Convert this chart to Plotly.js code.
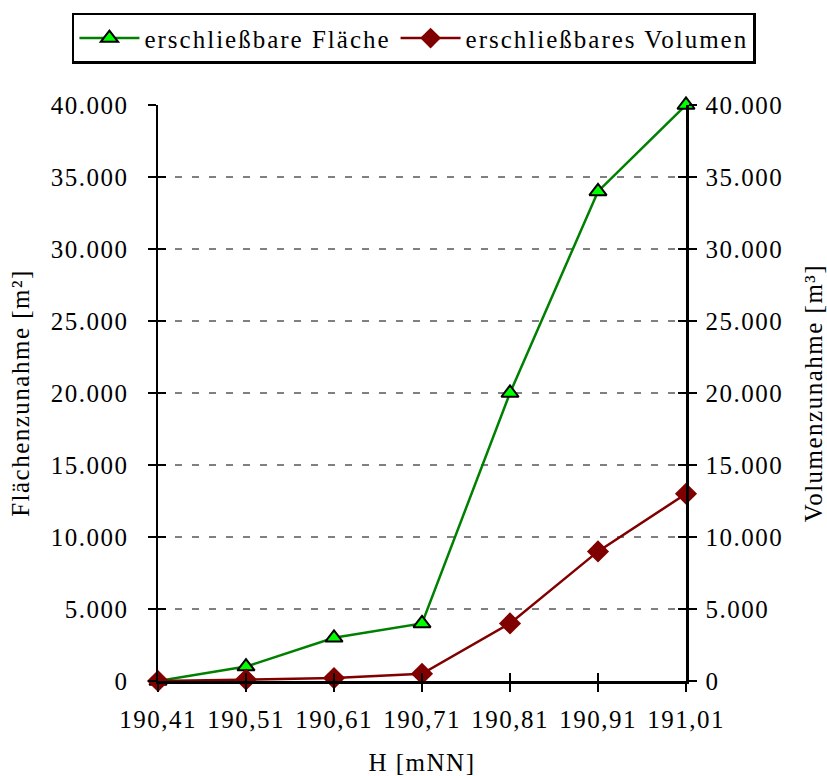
<!DOCTYPE html>
<html>
<head>
<meta charset="utf-8">
<script src="https://cdn.plot.ly/plotly-3.0.1.min.js"></script>
<style>
html,body{margin:0;padding:0;background:#fff;}
#chart{width:827px;height:776px;}
text{letter-spacing:1.5px;}
.legendtext{letter-spacing:2px;}
</style>
</head>
<body>
<div id="chart"></div>
<script>
const heights = [190.41, 190.51, 190.61, 190.71, 190.81, 190.91, 191.01];
const flaeche = [0, 1000, 3000, 4000, 20000, 34000, 40000];
const volumen = [0, 100, 200, 500, 4000, 9000, 13000];
const yTicks = [0, 5000, 10000, 15000, 20000, 25000, 30000, 35000, 40000];
const seriesNames = ['erschließbare Fläche', 'erschließbares Volumen'];

const FONT = {family: 'Liberation Serif', size: 25, color: '#000'};
const yRange = [0, 40000];
const xRange = [heights[0], heights[heights.length - 1]];

const traces = [
  {
    x: heights, y: flaeche, name: seriesNames[0], type: 'scatter', mode: 'lines+markers',
    line: {color: '#008000', width: 2.5},
    marker: {symbol: 'triangle-up', size: 15, color: '#00ff00', line: {color: '#000', width: 2}},
    cliponaxis: false, xaxis: 'x', yaxis: 'y'
  },
  {
    x: heights, y: volumen, name: seriesNames[1], type: 'scatter', mode: 'lines+markers',
    line: {color: '#800000', width: 2.5},
    marker: {symbol: 'diamond', size: 17, color: '#800000', line: {color: '#800000', width: 0}},
    cliponaxis: false, xaxis: 'x', yaxis: 'y2'
  },
  {x: heights, y: flaeche, xaxis: 'x2', yaxis: 'y3', mode: 'none', showlegend: false, hoverinfo: 'skip', type: 'scatter'},
  {x: heights, y: flaeche, xaxis: 'x2', yaxis: 'y4', mode: 'none', showlegend: false, hoverinfo: 'skip', type: 'scatter'}
];

const baseY = {
  range: yRange, tickvals: yTicks, tickformat: ',d', showline: true, linecolor: '#000', linewidth: 2.5,
  ticklen: 8, tickwidth: 2.5, tickcolor: '#000', zeroline: false, tickfont: FONT, fixedrange: true
};

const layout = {
  width: 827, height: 776,
  margin: {l: 158, r: 141, t: 105, b: 95, pad: 0, autoexpand: false},
  paper_bgcolor: '#fff', plot_bgcolor: '#fff',
  separators: ',.',
  font: FONT,
  showlegend: true,
  legend: {
    orientation: 'h', x: -0.163, xanchor: 'left', y: 1.16, yanchor: 'top',
    bordercolor: '#000', borderwidth: 2.5, bgcolor: '#fff', font: FONT, itemwidth: 60, tracegroupgap: 0
  },
  xaxis: {
    range: xRange, tickvals: heights, tickformat: '.2f', showline: true, linecolor: '#000', linewidth: 2.5,
    ticks: 'outside', ticklen: 8, tickwidth: 2.5, tickcolor: '#000', showgrid: false, zeroline: false,
    tickfont: FONT, ticklabelstandoff: 6, automargin: false,
    title: {text: 'H [mNN]', font: FONT, standoff: 27}, anchor: 'y', fixedrange: true
  },
  xaxis2: {
    range: xRange, tickvals: heights, overlaying: 'x', side: 'bottom', anchor: 'y',
    ticks: 'inside', ticklen: 8, tickwidth: 2.5, tickcolor: '#000', showticklabels: false,
    showgrid: false, zeroline: false, showline: false, fixedrange: true
  },
  yaxis: Object.assign({}, baseY, {
    side: 'left', anchor: 'x', ticks: 'outside', showgrid: true, gridcolor: '#808080', gridwidth: 2.5,
    griddash: '7px,10px', ticklabelstandoff: 14, automargin: false,
    title: {text: 'Flächenzunahme [m²]', font: FONT, standoff: 14}
  }),
  yaxis2: Object.assign({}, baseY, {
    side: 'right', anchor: 'x', overlaying: 'y', ticks: 'outside', showgrid: false, ticklabelstandoff: 4,
    automargin: false,
    title: {text: 'Volumenzunahme [m³]', font: FONT, standoff: 22}
  }),
  yaxis3: {
    range: yRange, tickvals: yTicks, overlaying: 'y', side: 'left', anchor: 'x',
    ticks: 'inside', ticklen: 8, tickwidth: 2.5, tickcolor: '#000', showticklabels: false,
    showgrid: false, zeroline: false, showline: false, fixedrange: true
  },
  yaxis4: {
    range: yRange, tickvals: yTicks, overlaying: 'y', side: 'right', anchor: 'x',
    ticks: 'inside', ticklen: 8, tickwidth: 2.5, tickcolor: '#000', showticklabels: false,
    showgrid: false, zeroline: false, showline: false, fixedrange: true
  }
};

Plotly.newPlot('chart', traces, layout, {displayModeBar: false, staticPlot: true});
</script>
</body>
</html>
